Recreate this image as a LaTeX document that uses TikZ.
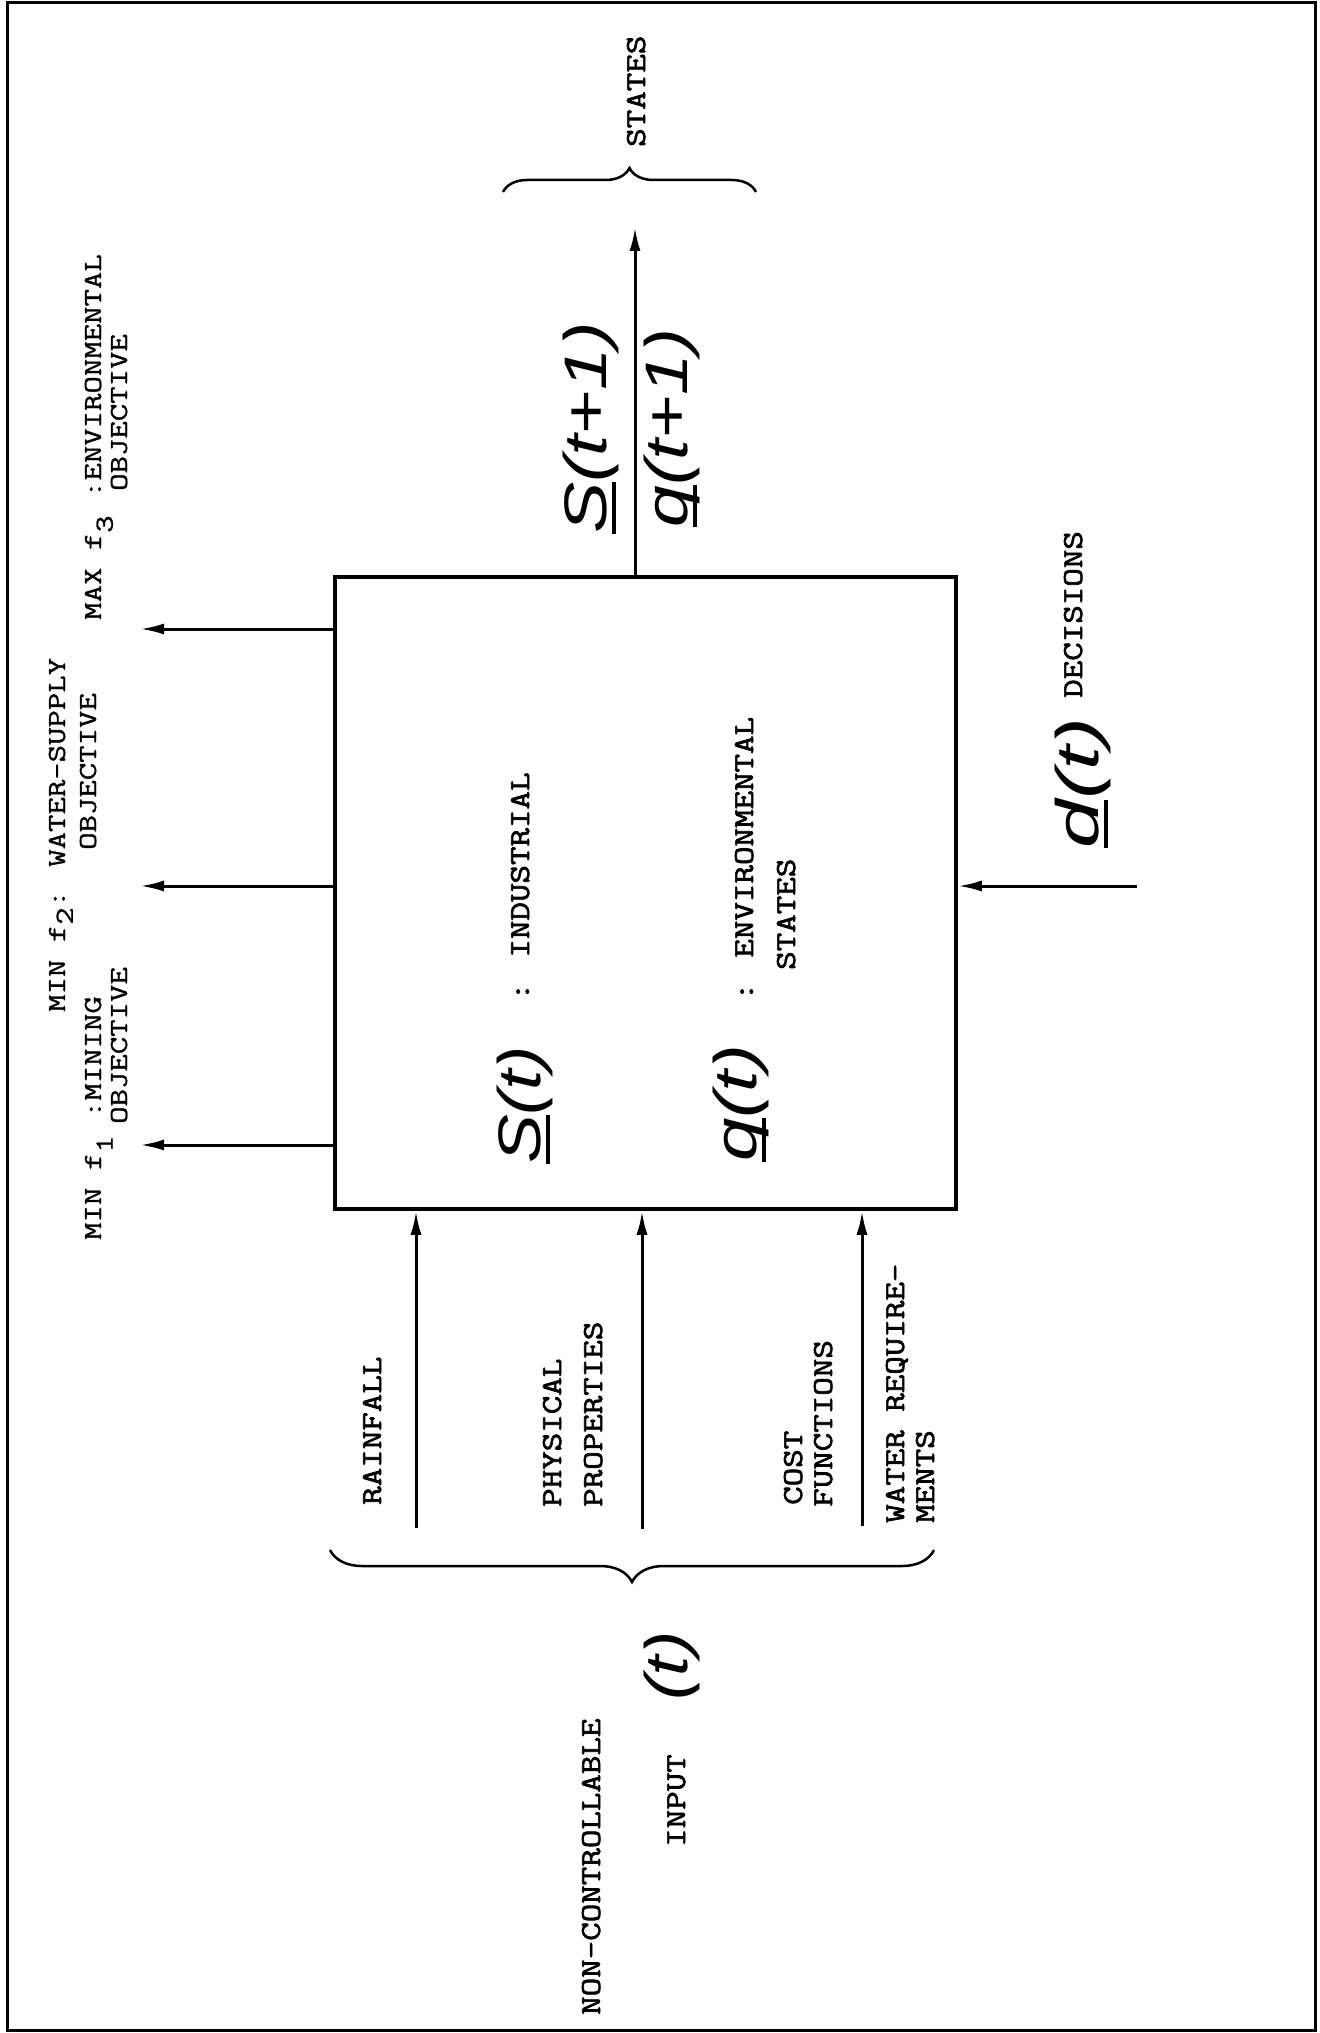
\documentclass[tikz,border=0pt]{standalone}
\usepackage{fontspec}
\usepackage{graphicx}
\newfontfamily\handfont{Liberation Sans}
\newfontfamily\twfont{Latin Modern Mono}[FakeBold=2]
\newfontfamily\twlfont{Latin Modern Mono}[FakeBold=1]
\usetikzlibrary{arrows.meta,decorations.pathreplacing}
\newcommand\hwul[1]{\setbox0=\hbox{#1}\rlap{\rule[-0.17em]{\wd0}{0.07em}}\box0}
\newcommand\lab[1]{\scalebox{1.24}[1]{\fontsize{29}{34}\selectfont\twfont #1}}
\newcommand\objt[1]{\scalebox{1.3}[1]{\fontsize{26}{30}\selectfont\twlfont #1}}
\newcommand\hand[2]{\scalebox{#1}[1]{\fontsize{60}{62}\selectfont\handfont\itshape #2}}
\newcommand\lowr[1]{\raisebox{-0.45em}{#1}}
\begin{document}
\begin{tikzpicture}[x=1pt,y=-1pt,
  arr/.style={line width=3pt,-{Latex[length=24pt,width=11pt]}},
  vtxt/.style={rotate=90,anchor=base west,inner sep=0pt},
  htxt/.style={rotate=90,anchor=base,inner sep=0pt},
  brc/.style={line width=2.5pt,decorate,decoration={brace,amplitude=#1}}]
\useasboundingbox (0,0) rectangle (1319,2033);
\draw[line width=3pt] (7,3) rectangle (1315,2030);
% main box
\node[draw,line width=3.5pt,minimum width=621pt,minimum height=632pt,inner sep=0pt] (box) at (645.5,893) {};
% top output
\coordinate (tipS) at (635,227);
\draw[arr] (box.north -| tipS) -- (tipS);
\node[htxt] (Sn) at (606,428) {\hand{1.28}{\hwul{S}(t+1)}};
\node[htxt] (qn) at (687,428) {\hand{1.25}{\hwul{q}(t+1)}};
\coordinate (bs1) at (503,192);
\coordinate (bs2) at (756,192);
\draw[brc=24pt] (bs1) -- (bs2);
\node[vtxt] (states) at (645,147) {\lab{STATES}};
% objectives
\coordinate (o1) at (140,1145);
\coordinate (o2) at (140,886);
\coordinate (o3) at (140,629);
\draw[arr] (o1 -| box.west) -- (o1);
\draw[arr] (o2 -| box.west) -- (o2);
\draw[arr] (o3 -| box.west) -- (o3);
\node[vtxt] (f1a) at (101,1240) {\objt{MIN f\lowr{1} :MINING}};
\node[vtxt] (f1b) at (127,1124) {\objt{OBJECTIVE}};
\node[vtxt] (f2a) at (65,1012) {\objt{MIN f\raisebox{-0.3em}{2}: WATER-SUPPLY}};
\node[vtxt] (f2b) at (96,850) {\objt{OBJECTIVE}};
\node[vtxt] (f3a) at (101,620) {\objt{MAX f\lowr{3} :ENVIRONMENTAL}};
\node[vtxt] (f3b) at (127,491) {\objt{OBJECTIVE}};
% inside box
\node[htxt] (St) at (540,1105) {\hand{1.22}{\hwul{S}(t)}};
\node[htxt] (qt) at (756,1103) {\hand{1.3}{\hwul{q}(t)}};
\node[vtxt] (ind) at (529,1001) {\lab{: INDUSTRIAL}};
\node[vtxt] (env) at (753,1001) {\lab{: ENVIRONMENTAL}};
\node[vtxt] (envb) at (795,970) {\lab{STATES}};
% decisions
\coordinate (dd) at (1137,886);
\draw[arr] (dd) -- (dd -| box.east);
\node[htxt] (dt) at (1098,783) {\hand{1.45}{\hwul{d}(t)}};
\node[vtxt] (dec) at (1082,698) {\lab{DECISIONS}};
% inputs
\coordinate (i1) at (416,1528);
\coordinate (i2) at (642,1529);
\coordinate (i3) at (862,1526);
\draw[arr] (i1) -- (i1 |- box.south);
\draw[arr] (i2) -- (i2 |- box.south);
\draw[arr] (i3) -- (i3 |- box.south);
\node[vtxt] (rain) at (381,1505) {\lab{RAINFALL}};
\node[vtxt] (phys) at (561,1507) {\lab{PHYSICAL}};
\node[vtxt] (prop) at (602,1507) {\lab{PROPERTIES}};
\node[vtxt] (cost) at (802,1505) {\lab{COST}};
\node[vtxt] (func) at (832,1507) {\lab{FUNCTIONS}};
\node[vtxt] (wat) at (904,1523) {\lab{WATER REQUIRE-}};
\node[vtxt] (ments) at (934,1523) {\lab{MENTS}};
\coordinate (bb1) at (934,1550);
\coordinate (bb2) at (330,1550);
\draw[brc=32pt] (bb1) -- (bb2);
\node[vtxt] (nonc) at (600,2015) {\lab{NON-CONTROLLABLE}};
\node[vtxt] (inp) at (685,1847) {\lab{INPUT}};
\node[htxt] (ut) at (687,1666) {\hand{1.22}{(t)}};
\end{tikzpicture}
\end{document}
